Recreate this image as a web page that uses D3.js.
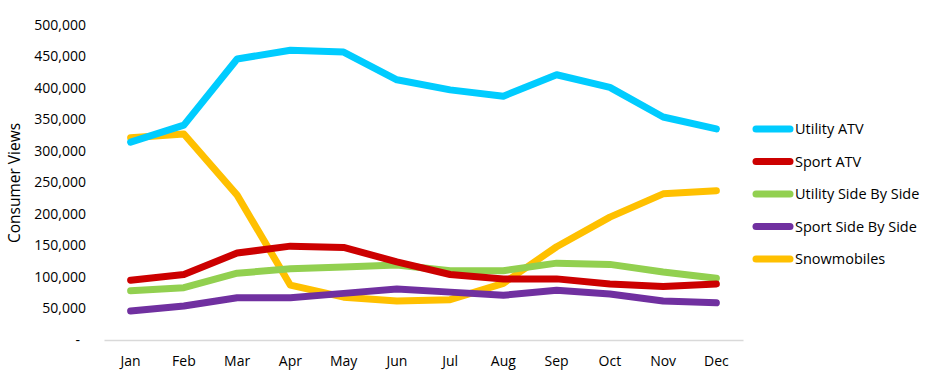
<!DOCTYPE html>
<html><head><meta charset="utf-8">
<script src="https://cdn.jsdelivr.net/npm/d3@7"></script>
<style>body{margin:0;background:#fff}svg{display:block}text{font-family:"Open Sans",sans-serif;fill:#000}</style>
</head><body><svg id="c" width="950" height="390"></svg>
<script>
const months = ["Jan","Feb","Mar","Apr","May","Jun","Jul","Aug","Sep","Oct","Nov","Dec"];
const seriesNames = ["Utility ATV","Sport ATV","Utility Side By Side","Sport Side By Side","Snowmobiles"];
const seriesColors = ["#00CCFF","#CC0000","#92D050","#7030A0","#FFC000"];
const utilityATV = [314000,341000,446000,460000,457000,413000,397000,387000,421000,401000,354000,335000];
const sportATV = [95000,104000,138000,149000,147000,124000,104000,97000,97000,89000,85000,89000];
const utilitySxS = [78000,83000,106000,113000,116000,119000,110000,110000,122000,120000,108000,98000];
const sportSxS = [46000,54000,67000,67000,74000,81000,76000,71000,79000,73000,62000,59000];
const snowmobiles = [321000,327000,230000,87000,68000,62000,64000,90000,148000,195000,232000,237000];
const yTicks = [0,50000,100000,150000,200000,250000,300000,350000,400000,450000,500000];
const yTitle = "Consumer Views";

const seriesValues = [utilityATV, sportATV, utilitySxS, sportSxS, snowmobiles];
const svg = d3.select("#c");
const x = d3.scaleBand().domain(months).range([104, 743]);
const y = d3.scaleLinear().domain([0, 500000]).range([340, 25]);
const fmt = d3.format(",");

// x axis
const xa = svg.append("g").attr("transform","translate(0,340)")
  .call(d3.axisBottom(x).tickSize(0).tickPadding(16));
xa.select(".domain").attr("stroke","#d9d9d9").attr("stroke-width",1.5);
xa.selectAll("text").style("font-size","14px").style("font-family","'Open Sans',sans-serif").attr("fill","#000");

// y axis labels
const ya = svg.append("g").attr("transform","translate(86,0)")
  .call(d3.axisLeft(y).tickValues(yTicks).tickSize(0).tickPadding(0)
    .tickFormat(d => d === 0 ? "-" : fmt(d)));
ya.select(".domain").remove();
ya.selectAll("text").style("font-size","14px").style("font-family","'Open Sans',sans-serif").attr("fill","#000");
ya.selectAll("text").filter(d => d === 0).attr("dx", -6);

svg.append("text").attr("transform","translate(15,183) rotate(-90)")
  .attr("text-anchor","middle").attr("dy","0.35em").style("font-size","15.5px").text(yTitle);

const line = d3.line().x((d,i) => x(months[i]) + x.bandwidth()/2).y(d => y(d));
const order = [4,0,3,2,1];
order.forEach(k => {
  svg.append("path").attr("d", line(seriesValues[k])).attr("fill","none")
    .attr("stroke", seriesColors[k]).attr("stroke-width",7)
    .attr("stroke-linejoin","round").attr("stroke-linecap","round");
});

// legend
const lg = svg.append("g");
seriesNames.forEach((n,i) => {
  const yy = 129 + i*32.5;
  lg.append("line").attr("x1",756).attr("x2",790).attr("y1",yy).attr("y2",yy)
    .attr("stroke",seriesColors[i]).attr("stroke-width",7).attr("stroke-linecap","round");
  lg.append("text").attr("x",795).attr("y",yy).attr("dy","0.35em").style("font-size","14.5px").text(n);
});
</script></body></html>
